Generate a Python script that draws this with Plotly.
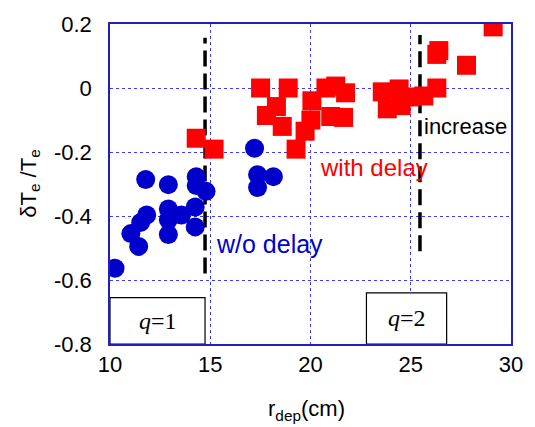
import plotly.graph_objects as go

# Blue circles: without delay
wo_x = [10.25, 11.78, 12.91, 14.30, 14.30, 14.79, 11.83, 11.53, 11.04, 11.43,
        12.91, 12.91, 12.91, 13.56, 14.25, 14.25, 17.21, 17.36, 18.15, 17.36]
wo_y = [-0.563, -0.286, -0.302, -0.277, -0.305, -0.323, -0.397, -0.42, -0.455, -0.495,
        -0.378, -0.412, -0.458, -0.397, -0.372, -0.434, -0.188, -0.271, -0.277, -0.311]

# Red squares: with delay
wd_x = [14.30, 15.19, 17.51, 18.89, 18.30, 17.80, 18.59, 19.28, 19.73, 20.07,
        20.02, 20.77, 21.26, 21.75, 21.01, 21.65, 23.58, 24.42, 23.83, 24.52,
        24.96, 25.65, 26.30, 26.40, 26.30, 27.78, 29.11]
wd_y = [-0.157, -0.191, 0.0, 0.0, -0.058, -0.086, -0.12, -0.191, -0.135, -0.04,
        -0.10, 0.0, 0.006, -0.015, -0.089, -0.092, -0.012, -0.003, -0.065, -0.055,
        -0.028, -0.025, 0.0, 0.117, 0.105, 0.071, 0.191]

# q=1 and q=2 surface positions (dashed lines)
q_lines_x = [14.74, 25.46]
q_lines_y = [[-0.58, 0.157], [-0.51, 0.166]]

x_ticks = [10, 15, 20, 25, 30]
y_ticks = [-0.8, -0.6, -0.4, -0.2, 0, 0.2]

BLUE = "#0000cc"
RED = "#ff0000"
GRID = "#3b3bff"

fig = go.Figure()

for xv, (ya, yb) in zip(q_lines_x, q_lines_y):
    fig.add_trace(go.Scatter(x=[xv, xv], y=[ya, yb], mode="lines",
                             line=dict(color="black", width=3.5, dash="16px,7px"),
                             showlegend=False, hoverinfo="skip"))

fig.add_trace(go.Scatter(x=wo_x, y=wo_y, mode="markers",
                         marker=dict(symbol="circle", size=19, color=BLUE),
                         showlegend=False))
fig.add_trace(go.Scatter(x=wd_x, y=wd_y, mode="markers",
                         marker=dict(symbol="square", size=19, color=RED),
                         showlegend=False))

tickfont = dict(family="Liberation Sans, Arial", size=22, color="black")
fig.update_xaxes(range=[10, 30], tickvals=x_ticks, ticktext=[str(v) for v in x_ticks],
                 showgrid=True, gridcolor=GRID, griddash="dot", gridwidth=1,
                 showline=True, linecolor="#2020c0", linewidth=1.5, mirror=True,
                 zeroline=False, ticks="", tickfont=tickfont, ticklabelstandoff=0)
fig.update_yaxes(range=[-0.8, 0.2], tickvals=y_ticks,
                 ticktext=["-0.8", "-0.6", "-0.4", "-0.2", "0", "0.2"],
                 showgrid=True, gridcolor=GRID, griddash="dot", gridwidth=1,
                 showline=True, linecolor="#2020c0", linewidth=1.5, mirror=True,
                 zeroline=False, ticks="", tickfont=tickfont, ticklabelstandoff=12)

# q boxes
fig.add_shape(type="rect", x0=10, x1=14.74, y0=-0.8, y1=-0.655,
              line=dict(color="black", width=1.2), fillcolor="white", layer="above")
fig.add_shape(type="rect", x0=22.79, x1=26.79, y0=-0.8, y1=-0.64,
              line=dict(color="black", width=1.2), fillcolor="white", layer="above")

serif = dict(family="Liberation Serif, Times New Roman", size=24, color="black")
fig.add_annotation(x=12.37, y=-0.728, text="<i>q</i>=1", showarrow=False, font=serif)
fig.add_annotation(x=24.81, y=-0.72, text="<i>q</i>=2", showarrow=False, font=serif)

fig.add_annotation(x=15.19, y=-0.489, text="w/o delay", showarrow=False, xanchor="left",
                   font=dict(family="Liberation Sans, Arial", size=25, color=BLUE))
fig.add_annotation(x=20.37, y=-0.249, text="with delay", showarrow=False, xanchor="left",
                   font=dict(family="Liberation Sans, Arial", size=24, color=RED))
fig.add_annotation(x=25.56, y=-0.12, text="increase", showarrow=False, xanchor="left",
                   font=dict(family="Liberation Sans, Arial", size=22, color="black"))

# axis titles
fig.add_annotation(xref="paper", yref="paper", x=0.49, y=-0.155, yanchor="top",
                   text="r<sub>dep</sub>(cm)", showarrow=False,
                   font=dict(family="Liberation Sans, Arial", size=22, color="black"))
fig.add_annotation(xref="paper", yref="paper", x=-0.24, y=0.5, textangle=-90,
                   text="δT<sub>e</sub> /T<sub>e</sub>", showarrow=False,
                   font=dict(family="Liberation Sans, Arial", size=22, color="black"))

fig.update_layout(width=535, height=427, margin=dict(l=110, r=20, t=17, b=83),
                  plot_bgcolor="white", paper_bgcolor="white")

fig.write_html("out.html")
